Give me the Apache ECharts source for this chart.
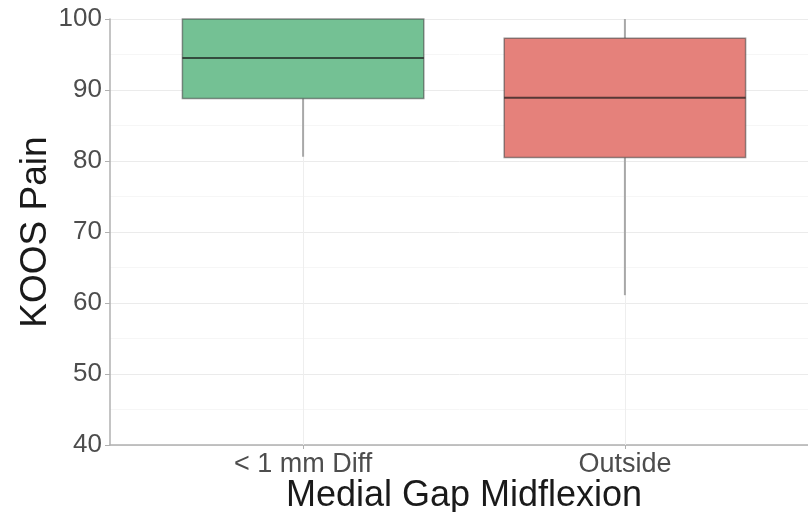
<!DOCTYPE html>
<html>
<head>
<meta charset="utf-8">
<script src="https://cdn.jsdelivr.net/npm/echarts@6/dist/echarts.min.js"></script>
<style>html,body{margin:0;padding:0;background:#fff}#c{width:808px;height:512px}</style>
</head>
<body>
<div id="c"></div>
<script>
const categories = ['< 1 mm Diff', 'Outside'];
const positions = [1, 2];
const whiskerLow = [80.6, 61.1];
const q1 = [88.8, 80.5];
const medians = [94.5, 88.9];
const q3 = [100, 97.3];
const whiskerHigh = [100, 100];
const yTicks = [40, 50, 60, 70, 80, 90, 100];

const fills = ['#74c194', '#e5817b'];

const data = positions.map((p, i) => [p, whiskerLow[i], q1[i], medians[i], q3[i], whiskerHigh[i], i]);

function renderItem(params, api) {
  const x = api.value(0);
  const lo = api.coord([x, api.value(1)]);
  const b1 = api.coord([x, api.value(2)]);
  const md = api.coord([x, api.value(3)]);
  const b3 = api.coord([x, api.value(4)]);
  const hi = api.coord([x, api.value(5)]);
  const w = api.size([0.75, 0])[0];
  const idx = api.value(6);
  const left = lo[0] - w / 2;
  return {
    type: 'group',
    children: [
      { type: 'line', shape: { x1: hi[0], y1: hi[1], x2: b3[0], y2: b3[1] }, style: { stroke: '#a8a8a8', lineWidth: 2 } },
      { type: 'line', shape: { x1: b1[0], y1: b1[1], x2: lo[0], y2: lo[1] }, style: { stroke: '#a8a8a8', lineWidth: 2 } },
      { type: 'rect', shape: { x: left, y: b3[1], width: w, height: b1[1] - b3[1] }, style: { fill: fills[idx], stroke: 'rgba(60,60,60,0.55)', lineWidth: 1.5 } },
      { type: 'line', shape: { x1: left, y1: md[1], x2: left + w, y2: md[1] }, style: { stroke: 'rgba(25,25,25,0.7)', lineWidth: 2 } }
    ]
  };
}

const chart = echarts.init(document.getElementById('c'), null, { renderer: 'canvas' });
chart.setOption({
  animation: false,
  backgroundColor: '#fff',
  grid: { left: 110, top: 19, bottom: 67, width: 708, containLabel: false, outerBoundsMode: 'none' },
  xAxis: {
    type: 'value',
    min: 0.4,
    max: 2.6,
    name: 'Medial Gap Midflexion',
    nameLocation: 'middle',
    nameGap: 33,
    nameMoveOverlap: false,
    nameTextStyle: { fontFamily: 'Liberation Sans', fontSize: 36, color: '#1a1a1a' },
    axisLine: { show: true, lineStyle: { color: '#b0b0b0', width: 1.5 } },
    axisTick: { show: true, length: 4, customValues: positions, lineStyle: { color: '#b0b0b0' } },
    axisLabel: {
      customValues: positions,
      formatter: v => categories[Math.round(v) - 1] || '',
      fontFamily: 'Liberation Sans', fontSize: 27, color: '#4d4d4d', margin: 6
    },
    splitLine: { show: false }
  },
  yAxis: {
    type: 'value',
    min: yTicks[0],
    max: yTicks[yTicks.length - 1],
    interval: 10,
    name: 'KOOS Pain',
    nameLocation: 'middle',
    nameGap: 56,
    nameMoveOverlap: false,
    nameTextStyle: { fontFamily: 'Liberation Sans', fontSize: 37, color: '#1a1a1a' },
    axisLine: { show: true, lineStyle: { color: '#b0b0b0', width: 1.5 } },
    axisTick: { show: true, length: 5, lineStyle: { color: '#b0b0b0' } },
    axisLabel: { fontFamily: 'Liberation Sans', fontSize: 26, color: '#4d4d4d', margin: 8 },
    splitLine: { show: true, lineStyle: { color: '#ebebeb', width: 1 } },
    minorTick: { show: false, splitNumber: 2 },
    minorSplitLine: { show: true, lineStyle: { color: '#f6f6f6', width: 1 } }
  },
  series: [{
    type: 'custom',
    z: 3,
    renderItem: renderItem,
    data: data,
    encode: { x: 0, y: [1, 2, 3, 4, 5] },
    clip: false,
    markLine: {
      silent: true,
      z: 1,
      symbol: ['none', 'none'],
      label: { show: false },
      lineStyle: { color: '#eeeeee', width: 1, type: 'solid' },
      data: positions.map(p => ({ xAxis: p }))
    }
  }]
});
</script>
</body>
</html>
